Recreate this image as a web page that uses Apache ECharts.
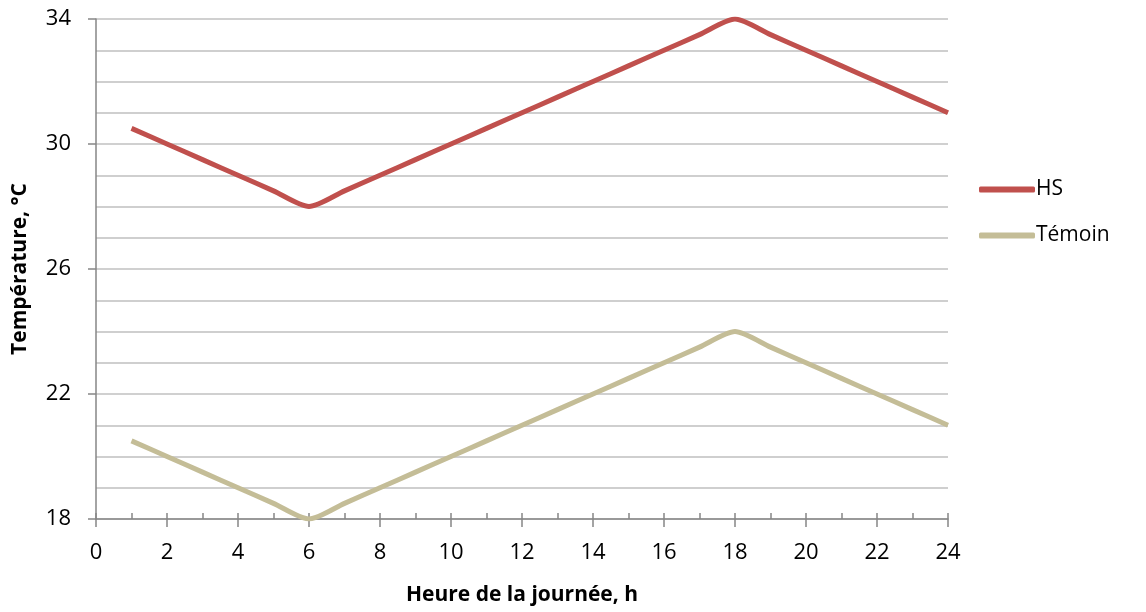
<!DOCTYPE html>
<html>
<head>
<meta charset="utf-8">
<script src="https://cdn.jsdelivr.net/npm/echarts@6/dist/echarts.min.js"></script>
<style>
  html, body { margin: 0; padding: 0; background: #fff; }
  #chart { width: 1146px; height: 612px; }
</style>
</head>
<body>
<div id="chart"></div>
<script>
// heures de la journée
const hours = [1, 2, 3, 4, 5, 6, 7, 8, 9, 10, 11, 12, 13, 14, 15, 16, 17, 18, 19, 20, 21, 22, 23, 24];
// température HS
const hsValues = [30.5, 30, 29.5, 29, 28.5, 28, 28.5, 29, 29.5, 30, 30.5, 31, 31.5, 32, 32.5, 33, 33.5, 34, 33.5, 33, 32.5, 32, 31.5, 31];
// température témoin
const temoinValues = [20.5, 20, 19.5, 19, 18.5, 18, 18.5, 19, 19.5, 20, 20.5, 21, 21.5, 22, 22.5, 23, 23.5, 24, 23.5, 23, 22.5, 22, 21.5, 21];

const fontFamily = "'Open Sans', 'Liberation Sans', sans-serif";
const toPairs = vals => hours.map((h, i) => [h, vals[i]]);

var myChart = echarts.init(document.getElementById('chart'));
const options = {
  animation: false,
  grid: { left: 96, right: 198, top: 19, bottom: 93 },
  legend: {
    orient: 'vertical',
    left: 974,
    top: 174,
    itemGap: 25,
    itemWidth: 56,
    itemHeight: 6,
    icon: 'roundRect',
    textStyle: { fontFamily: fontFamily, fontSize: 21, color: '#000', padding: [0, 0, 0, -4] },
    data: ['HS', 'Témoin']
  },
  xAxis: [
    {
      type: 'value',
      min: 0,
      max: 24,
      interval: 2,
      name: 'Heure de la journée, h',
      nameLocation: 'middle',
      nameGap: 66,
      nameTextStyle: { fontFamily: fontFamily, fontSize: 21, fontWeight: 'bold', color: '#000' },
      axisLine: { show: true, lineStyle: { color: '#868686', width: 1.5 } },
      axisTick: { show: true, length: 8, lineStyle: { color: '#868686', width: 1.5 } },
      axisLabel: { fontFamily: fontFamily, fontSize: 22, color: '#000', margin: 23 },
      splitLine: { show: false }
    },
    {
      type: 'value',
      min: 0,
      max: 24,
      interval: 1,
      position: 'bottom',
      axisLine: { show: false },
      axisTick: { show: true, inside: true, length: 6, lineStyle: { color: '#868686', width: 1.5 } },
      axisLabel: { show: false },
      splitLine: { show: false }
    }
  ],
  yAxis: {
    type: 'value',
    min: 18,
    max: 34,
    interval: 4,
    name: 'Température, °C',
    nameLocation: 'middle',
    nameGap: 65,
    nameTextStyle: { fontFamily: fontFamily, fontSize: 21, fontWeight: 'bold', color: '#000' },
    axisLine: { show: true, lineStyle: { color: '#868686', width: 1.5 } },
    axisTick: { show: true, length: 8, lineStyle: { color: '#868686', width: 1.5 } },
    axisLabel: { fontFamily: fontFamily, fontSize: 22, color: '#000', margin: 25 },
    splitLine: { show: true, lineStyle: { color: '#c0c0c0', width: 1.5 } },
    minorTick: { show: false, splitNumber: 4 },
    minorSplitLine: { show: true, lineStyle: { color: '#c0c0c0', width: 1.5 } }
  },
  series: [
    {
      name: 'HS',
      type: 'line',
      data: toPairs(hsValues),
      showSymbol: false,
      symbol: 'none',
      smooth: 0.25,
      lineStyle: { color: '#C0504D', width: 5 },
      itemStyle: { color: '#C0504D' }
    },
    {
      name: 'Témoin',
      type: 'line',
      data: toPairs(temoinValues),
      showSymbol: false,
      symbol: 'none',
      smooth: 0.25,
      lineStyle: { color: '#C4BD97', width: 5 },
      itemStyle: { color: '#C4BD97' }
    }
  ]
};
myChart.setOption(options);
</script>
</body>
</html>
